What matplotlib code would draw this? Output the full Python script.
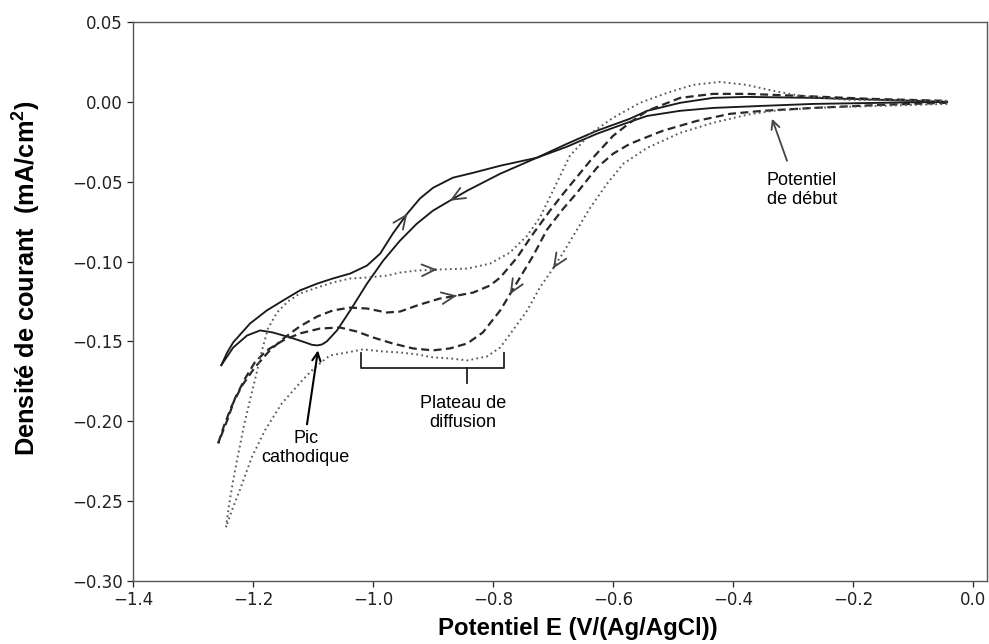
import numpy as np
import matplotlib
matplotlib.use("Agg")
import matplotlib.pyplot as plt

# ---------------- data ----------------
# Solid curve: forward (cathodic) scan, from 0 V towards -1.25 V
solid_fwd_E = [-0.043, -0.155, -0.267, -0.377, -0.433, -0.488, -0.543, -0.572, -0.627, -0.677,
               -0.727, -0.788, -0.843, -0.872, -0.900, -0.927, -0.955, -0.983, -1.010, -1.038,
               -1.060, -1.077, -1.085, -1.093, -1.102, -1.110, -1.138, -1.167, -1.188, -1.210,
               -1.233, -1.253]
solid_fwd_j = [0.0000, 0.0013, 0.0025, 0.0031, 0.0025, -0.0006, -0.0056, -0.0106, -0.0181, -0.0263,
               -0.0350, -0.0450, -0.0556, -0.0619, -0.0681, -0.0763, -0.0869, -0.0994, -0.1138, -0.1306,
               -0.1431, -0.1500, -0.1519, -0.1525, -0.1521, -0.1510, -0.1475, -0.1444, -0.1431, -0.1463,
               -0.1538, -0.1650]
# Solid curve: return scan
solid_ret_E = [-1.253, -1.243, -1.233, -1.205, -1.177, -1.150, -1.122, -1.093, -1.067, -1.038,
               -1.010, -0.988, -0.967, -0.943, -0.922, -0.900, -0.867, -0.833, -0.788, -0.727,
               -0.677, -0.627, -0.572, -0.543, -0.488, -0.433, -0.350, -0.267, -0.155, -0.043]
solid_ret_j = [-0.1650, -0.1569, -0.1506, -0.1388, -0.1306, -0.1244, -0.1181, -0.1138, -0.1106, -0.1075,
               -0.1025, -0.0950, -0.0825, -0.0700, -0.0606, -0.0538, -0.0475, -0.0444, -0.0400, -0.0350,
               -0.0281, -0.0200, -0.0125, -0.0088, -0.0056, -0.0038, -0.0025, -0.0013, -0.0006, 0.0000]

# Dashed curve
dash_fwd_E = [-0.043, -0.155, -0.267, -0.350, -0.405, -0.460, -0.517, -0.572, -0.600, -0.627,
              -0.660, -0.683, -0.710, -0.733, -0.755, -0.772, -0.788, -0.817, -0.843, -0.872,
              -0.900, -0.933, -0.967, -1.000, -1.027, -1.055, -1.088, -1.122, -1.150, -1.177,
              -1.197, -1.213, -1.230, -1.243, -1.258]
dash_fwd_j = [-0.0006, -0.0019, -0.0038, -0.0056, -0.0075, -0.0119, -0.0181, -0.0263, -0.0325, -0.0413,
              -0.0569, -0.0669, -0.0800, -0.0963, -0.1100, -0.1206, -0.1306, -0.1444, -0.1513, -0.1544,
              -0.1556, -0.1544, -0.1513, -0.1475, -0.1438, -0.1413, -0.1419, -0.1450, -0.1494, -0.1556,
              -0.1631, -0.1731, -0.1856, -0.1994, -0.2138]
dash_ret_E = [-1.258, -1.248, -1.235, -1.218, -1.197, -1.172, -1.147, -1.122, -1.093, -1.067,
              -1.038, -1.010, -0.977, -0.955, -0.922, -0.888, -0.860, -0.833, -0.805, -0.788,
              -0.760, -0.733, -0.705, -0.683, -0.638, -0.600, -0.572, -0.543, -0.488, -0.433,
              -0.377, -0.293, -0.172, -0.043]
dash_ret_j = [-0.2138, -0.2025, -0.1900, -0.1775, -0.1663, -0.1556, -0.1475, -0.1406, -0.1344, -0.1306,
              -0.1288, -0.1294, -0.1319, -0.1313, -0.1269, -0.1231, -0.1213, -0.1194, -0.1150, -0.1100,
              -0.0975, -0.0825, -0.0681, -0.0575, -0.0369, -0.0213, -0.0131, -0.0056, 0.0025, 0.0050,
              0.0050, 0.0038, 0.0019, 0.0006]

# Dotted curve
dot_fwd_E = [-0.043, -0.155, -0.267, -0.333, -0.377, -0.433, -0.488, -0.543, -0.583, -0.610,
             -0.638, -0.663, -0.683, -0.700, -0.722, -0.743, -0.767, -0.788, -0.810, -0.843,
             -0.872, -0.900, -0.927, -0.955, -0.983, -1.017, -1.043, -1.072, -1.097, -1.118,
             -1.152, -1.180, -1.202, -1.222, -1.235, -1.245]
dot_fwd_j = [-0.0013, -0.0025, -0.0038, -0.0056, -0.0081, -0.0131, -0.0194, -0.0288, -0.0388, -0.0513,
             -0.0663, -0.0819, -0.0944, -0.1044, -0.1163, -0.1306, -0.1431, -0.1538, -0.1594, -0.1619,
             -0.1606, -0.1600, -0.1581, -0.1569, -0.1563, -0.1550, -0.1569, -0.1588, -0.1663, -0.1744,
             -0.1888, -0.2056, -0.2225, -0.2431, -0.2556, -0.2663]
dot_ret_E = [-1.245, -1.240, -1.233, -1.225, -1.215, -1.205, -1.195, -1.185, -1.175, -1.160,
             -1.142, -1.122, -1.093, -1.067, -1.038, -1.010, -0.977, -0.955, -0.927, -0.893,
             -0.843, -0.805, -0.772, -0.743, -0.722, -0.700, -0.672, -0.638, -0.600, -0.555,
             -0.510, -0.467, -0.422, -0.377, -0.333, -0.288, -0.210, -0.043]
dot_ret_j = [-0.2663, -0.2525, -0.2369, -0.2213, -0.2025, -0.1869, -0.1713, -0.1556, -0.1419, -0.1319,
             -0.1250, -0.1200, -0.1163, -0.1131, -0.1106, -0.1100, -0.1088, -0.1069, -0.1056, -0.1050,
             -0.1044, -0.1013, -0.0944, -0.0838, -0.0725, -0.0556, -0.0338, -0.0200, -0.0100, -0.0006,
             0.0056, 0.0106, 0.0125, 0.0106, 0.0069, 0.0038, 0.0013, 0.0006]

x_ticks = [-1.4, -1.2, -1.0, -0.8, -0.6, -0.4, -0.2, 0.0]
y_ticks = [-0.30, -0.25, -0.20, -0.15, -0.10, -0.05, 0.00, 0.05]

x_label = "Potentiel E (V/(Ag/AgCl))"
y_label = "Densité de courant  (mA/cm$^\\mathregular{2}$)"

# ---------------- figure ----------------
W, H = 989, 644
fig = plt.figure(figsize=(W / 100, H / 100), dpi=100)
ax = fig.add_axes([133 / W, 63 / H, (987 - 133) / W, (581 - 22) / H])

c_solid, c_dash, c_dot = "#1a1a1a", "#282828", "#5a5a5a"
sty = {
    "solid": dict(color=c_solid, lw=1.35, ls="-"),
    "dash": dict(color=c_dash, lw=1.6, ls=(0, (3.6, 2.0))),
    "dot": dict(color=c_dot, lw=1.4, ls=(0, (0.9, 1.7))),
}

curves = [
    ("solid", solid_fwd_E, solid_fwd_j, solid_ret_E, solid_ret_j),
    ("dash", dash_fwd_E, dash_fwd_j, dash_ret_E, dash_ret_j),
    ("dot", dot_fwd_E, dot_fwd_j, dot_ret_E, dot_ret_j),
]
for key, fE, fj, rE, rj in curves:
    ax.plot(fE, fj, **sty[key], solid_capstyle="round", dash_capstyle="butt",
            solid_joinstyle="round")
    ax.plot(rE, rj, **sty[key], solid_capstyle="round", dash_capstyle="butt",
            solid_joinstyle="round")


def curve_arrow(E, j, k, color="#444444"):
    """Open chevron on the curve at point k, pointing along the scan direction."""
    E = np.asarray(E); j = np.asarray(j)
    tip = (E[k], j[k])
    tail = (E[k] - 0.08 * (E[k] - E[k - 1]), j[k] - 0.08 * (j[k] - j[k - 1]))
    ax.annotate("", xy=tip, xytext=tail,
                arrowprops=dict(arrowstyle="->,head_length=0.95,head_width=0.42",
                                color=color, lw=1.3, shrinkA=0, shrinkB=0))


curve_arrow(solid_ret_E, solid_ret_j, 13)   # solid, return (up-right)
curve_arrow(solid_fwd_E, solid_fwd_j, 13)   # solid, forward (down-left)
curve_arrow(dot_ret_E, dot_ret_j, 19)       # dotted, return
curve_arrow(dash_ret_E, dash_ret_j, 16)     # dashed, return
curve_arrow(dash_fwd_E, dash_fwd_j, 15)     # dashed, forward
curve_arrow(dot_fwd_E, dot_fwd_j, 13)       # dotted, forward

# ---------------- annotations ----------------
afont = dict(family=["Liberation Sans", "DejaVu Sans"], size=13, color="black")
ax.text(-0.285, -0.055, "Potentiel\nde début", ha="center", va="center",
        linespacing=1.15, **afont)
ax.annotate("", xy=(-0.335, -0.0106), xytext=(-0.310, -0.0369),
            arrowprops=dict(arrowstyle="->,head_length=0.6,head_width=0.3",
                            color="#444444", lw=1.3, shrinkA=0, shrinkB=0))
ax.text(-1.112, -0.2165, "Pic\ncathodique", ha="center", va="center",
        linespacing=1.15, **afont)
ax.annotate("", xy=(-1.0917, -0.1556), xytext=(-1.110, -0.2019),
            arrowprops=dict(arrowstyle="->,head_length=0.6,head_width=0.3",
                            color="black", lw=1.5, shrinkA=0, shrinkB=0))
ax.text(-0.85, -0.195, "Plateau de\ndiffusion", ha="center", va="center",
        linespacing=1.15, **afont)
# brace under the plateau
bx0, bx1, bxm = -1.020, -0.7817, -0.843
by0, by1, by2 = -0.1575, -0.1669, -0.1760
ax.plot([bx0, bx0, bx1, bx1], [by0, by1, by1, by0], color="#222222", lw=1.3,
        solid_joinstyle="round")
ax.plot([bxm, bxm], [by1, by2], color="#222222", lw=1.3)

# ---------------- axes ----------------
ax.set_xlim(-1.4, 0.0233)
ax.set_ylim(-0.30, 0.05)
ax.set_xticks(x_ticks)
ax.set_yticks(y_ticks)
ax.set_xticklabels([f"{v:.1f}".replace("-", "\u2212") for v in x_ticks])
ax.set_yticklabels([f"{v:.2f}".replace("-", "\u2212") for v in y_ticks])
ax.tick_params(labelsize=12, colors="#222222", length=4, width=0.9)
for s in ax.spines.values():
    s.set_color("#555555")
    s.set_linewidth(1.0)

ax.set_xlabel(x_label, family=["Liberation Sans", "DejaVu Sans"], weight="bold", size=17.3)
ax.set_ylabel(y_label, family=["Liberation Sans", "DejaVu Sans"], weight="bold", size=18.3)
ax.xaxis.set_label_coords((578 - 133) / 854, -(628 - 581) / 559)
ax.xaxis.label.set_va("center")
ax.yaxis.set_label_coords(-(133 - 27) / 854, (581 - 278) / 559)
ax.yaxis.label.set_va("center")

fig.savefig("out.png", dpi=100)
